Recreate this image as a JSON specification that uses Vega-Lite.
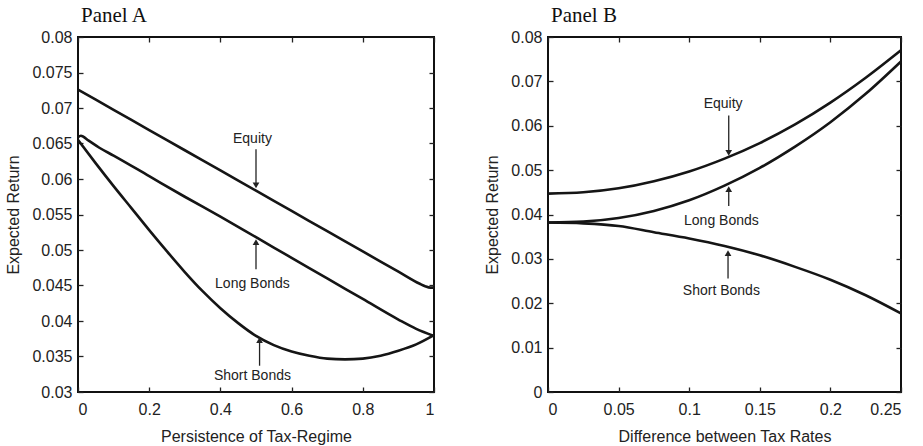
{
  "$schema": "https://vega.github.io/schema/vega-lite/v6.json",
  "padding": {"left": 4, "top": 4, "right": 5, "bottom": 0},
  "config": {
    "font": "Liberation Sans",
    "view": {"stroke": "#111", "strokeWidth": 2},
    "axis": {"labelFont": "Liberation Sans", "labelFontSize": 16, "labelColor": "#222", "titleFont": "Liberation Sans", "titleFontSize": 16, "titleFontWeight": "normal", "titleColor": "#222", "grid": false, "domain": false, "tickColor": "#222", "tickSize": -5, "tickWidth": 1.3, "labelPadding": 11, "titlePadding": 10},
    "axisX": {"labelPadding": 14, "titlePadding": 11},
    "title": {"font": "Liberation Serif", "fontSize": 21, "fontWeight": "normal", "anchor": "start", "frame": "group", "color": "#111", "offset": 3, "dx": 3}
  },
  "datasets": {
    "a_lines": [
      {"series": "Equity", "x": 0, "y": 0.0726}, {"series": "Equity", "x": 0.1, "y": 0.06975}, {"series": "Equity", "x": 0.2, "y": 0.0669}, {"series": "Equity", "x": 0.3, "y": 0.06405}, {"series": "Equity", "x": 0.4, "y": 0.0612}, {"series": "Equity", "x": 0.5, "y": 0.05835}, {"series": "Equity", "x": 0.6, "y": 0.0555}, {"series": "Equity", "x": 0.7, "y": 0.05265}, {"series": "Equity", "x": 0.8, "y": 0.0498}, {"series": "Equity", "x": 0.9, "y": 0.04695}, {"series": "Equity", "x": 0.96, "y": 0.04524}, {"series": "Equity", "x": 0.975, "y": 0.0449}, {"series": "Equity", "x": 0.99, "y": 0.0447}, {"series": "Equity", "x": 1.0, "y": 0.0447},
      {"series": "Long Bonds", "x": 0, "y": 0.0659}, {"series": "Long Bonds", "x": 0.008, "y": 0.0661}, {"series": "Long Bonds", "x": 0.03, "y": 0.0654}, {"series": "Long Bonds", "x": 0.06, "y": 0.0644}, {"series": "Long Bonds", "x": 0.1, "y": 0.0633}, {"series": "Long Bonds", "x": 0.2, "y": 0.0604}, {"series": "Long Bonds", "x": 0.3, "y": 0.0575}, {"series": "Long Bonds", "x": 0.4, "y": 0.0547}, {"series": "Long Bonds", "x": 0.5, "y": 0.0518}, {"series": "Long Bonds", "x": 0.6, "y": 0.0489}, {"series": "Long Bonds", "x": 0.7, "y": 0.046}, {"series": "Long Bonds", "x": 0.8, "y": 0.0431}, {"series": "Long Bonds", "x": 0.9, "y": 0.0402}, {"series": "Long Bonds", "x": 0.95, "y": 0.0389}, {"series": "Long Bonds", "x": 1.0, "y": 0.0379},
      {"series": "Short Bonds", "x": 0, "y": 0.0655}, {"series": "Short Bonds", "x": 0.05, "y": 0.0622}, {"series": "Short Bonds", "x": 0.1, "y": 0.059}, {"series": "Short Bonds", "x": 0.15, "y": 0.0559}, {"series": "Short Bonds", "x": 0.2, "y": 0.0528}, {"series": "Short Bonds", "x": 0.25, "y": 0.0498}, {"series": "Short Bonds", "x": 0.3, "y": 0.0469}, {"series": "Short Bonds", "x": 0.35, "y": 0.0442}, {"series": "Short Bonds", "x": 0.4, "y": 0.0418}, {"series": "Short Bonds", "x": 0.45, "y": 0.0397}, {"series": "Short Bonds", "x": 0.5, "y": 0.0379}, {"series": "Short Bonds", "x": 0.55, "y": 0.0366}, {"series": "Short Bonds", "x": 0.6, "y": 0.0357}, {"series": "Short Bonds", "x": 0.65, "y": 0.0351}, {"series": "Short Bonds", "x": 0.7, "y": 0.0347}, {"series": "Short Bonds", "x": 0.75, "y": 0.0346}, {"series": "Short Bonds", "x": 0.8, "y": 0.0347}, {"series": "Short Bonds", "x": 0.85, "y": 0.0351}, {"series": "Short Bonds", "x": 0.9, "y": 0.0358}, {"series": "Short Bonds", "x": 0.95, "y": 0.0367}, {"series": "Short Bonds", "x": 1.0, "y": 0.038}
    ],
    "a_notes": [
      {"label": "Equity", "tx": 0.49, "ty": 0.0656, "ax": 0.5, "ay1": 0.0642, "ay2": 0.0587, "hy": 0.0591, "dir": "down"},
      {"label": "Long Bonds", "tx": 0.49, "ty": 0.0452, "ax": 0.5, "ay1": 0.0473, "ay2": 0.0515, "hy": 0.0511, "dir": "up"},
      {"label": "Short Bonds", "tx": 0.49, "ty": 0.0323, "ax": 0.51, "ay1": 0.0337, "ay2": 0.0377, "hy": 0.0373, "dir": "up"}
    ],
    "b_lines": [
      {"series": "Equity", "x": 0, "y": 0.0447}, {"series": "Equity", "x": 0.025, "y": 0.045}, {"series": "Equity", "x": 0.05, "y": 0.0459}, {"series": "Equity", "x": 0.075, "y": 0.0475}, {"series": "Equity", "x": 0.1, "y": 0.0497}, {"series": "Equity", "x": 0.125, "y": 0.0526}, {"series": "Equity", "x": 0.15, "y": 0.0561}, {"series": "Equity", "x": 0.175, "y": 0.0603}, {"series": "Equity", "x": 0.2, "y": 0.0652}, {"series": "Equity", "x": 0.225, "y": 0.0708}, {"series": "Equity", "x": 0.25, "y": 0.077},
      {"series": "Long Bonds", "x": 0, "y": 0.0382}, {"series": "Long Bonds", "x": 0.025, "y": 0.0384}, {"series": "Long Bonds", "x": 0.05, "y": 0.0392}, {"series": "Long Bonds", "x": 0.075, "y": 0.0408}, {"series": "Long Bonds", "x": 0.1, "y": 0.0432}, {"series": "Long Bonds", "x": 0.125, "y": 0.0465}, {"series": "Long Bonds", "x": 0.15, "y": 0.0505}, {"series": "Long Bonds", "x": 0.175, "y": 0.0553}, {"series": "Long Bonds", "x": 0.2, "y": 0.0608}, {"series": "Long Bonds", "x": 0.225, "y": 0.0672}, {"series": "Long Bonds", "x": 0.25, "y": 0.0745},
      {"series": "Short Bonds", "x": 0, "y": 0.0382}, {"series": "Short Bonds", "x": 0.025, "y": 0.038}, {"series": "Short Bonds", "x": 0.05, "y": 0.0374}, {"series": "Short Bonds", "x": 0.075, "y": 0.036}, {"series": "Short Bonds", "x": 0.1, "y": 0.0346}, {"series": "Short Bonds", "x": 0.125, "y": 0.0329}, {"series": "Short Bonds", "x": 0.15, "y": 0.0308}, {"series": "Short Bonds", "x": 0.175, "y": 0.0282}, {"series": "Short Bonds", "x": 0.2, "y": 0.0253}, {"series": "Short Bonds", "x": 0.225, "y": 0.0218}, {"series": "Short Bonds", "x": 0.25, "y": 0.0177}
    ],
    "b_notes": [
      {"label": "Equity", "tx": 0.124, "ty": 0.065, "ax": 0.128, "ay1": 0.0623, "ay2": 0.0532, "hy": 0.0539, "dir": "down"},
      {"label": "Long Bonds", "tx": 0.1228, "ty": 0.0386, "ax": 0.128, "ay1": 0.0419, "ay2": 0.0464, "hy": 0.0457, "dir": "up"},
      {"label": "Short Bonds", "tx": 0.1228, "ty": 0.0228, "ax": 0.1275, "ay1": 0.0256, "ay2": 0.032, "hy": 0.0313, "dir": "up"}
    ]
  },
  "spacing": 42,
  "hconcat": [
    {
      "title": "Panel A",
      "width": 356,
      "height": 355,
      "resolve": {"axis": {"x": "independent", "y": "independent"}},
      "layer": [
        {
          "data": {"name": "a_lines"},
          "mark": {"type": "line", "color": "#151515", "strokeWidth": 2.6, "interpolate": "monotone"},
          "encoding": {
            "x": {"field": "x", "type": "quantitative", "scale": {"domain": [0, 1], "nice": false}, "axis": {"title": "Persistence of Tax-Regime", "values": [0, 0.2, 0.4, 0.6, 0.8, 1], "format": "~g"}},
            "y": {"field": "y", "type": "quantitative", "scale": {"domain": [0.03, 0.08], "nice": false, "zero": false}, "axis": {"title": "Expected Return", "values": [0.03, 0.035, 0.04, 0.045, 0.05, 0.055, 0.06, 0.065, 0.07, 0.075, 0.08], "format": "~g"}},
            "detail": {"field": "series"}
          }
        },
        {
          "data": {"name": "a_notes"},
          "mark": {"type": "text", "fontSize": 14, "font": "Liberation Sans", "color": "#222", "align": "center", "baseline": "middle"},
          "encoding": {
            "x": {"field": "tx", "type": "quantitative", "axis": {"orient": "top", "labels": false, "title": null, "values": [0, 0.2, 0.4, 0.6, 0.8, 1]}},
            "y": {"field": "ty", "type": "quantitative", "axis": {"orient": "right", "labels": false, "title": null, "values": [0.03, 0.035, 0.04, 0.045, 0.05, 0.055, 0.06, 0.065, 0.07, 0.075, 0.08]}},
            "text": {"field": "label"}
          }
        },
        {
          "data": {"name": "a_notes"},
          "mark": {"type": "rule", "color": "#222", "strokeWidth": 1.3},
          "encoding": {
            "x": {"field": "ax", "type": "quantitative", "axis": null},
            "y": {"field": "ay1", "type": "quantitative", "axis": null},
            "y2": {"field": "hy"}
          }
        },
        {
          "data": {"name": "a_notes"},
          "mark": {"type": "point", "filled": true, "color": "#222", "size": 45, "opacity": 1},
          "encoding": {
            "x": {"field": "ax", "type": "quantitative", "axis": null},
            "y": {"field": "hy", "type": "quantitative", "axis": null},
            "shape": {"field": "dir", "type": "nominal", "scale": {"domain": ["down", "up"], "range": ["triangle-down", "triangle-up"]}, "legend": null}
          }
        }
      ]
    },
    {
      "title": "Panel B",
      "width": 353,
      "height": 355,
      "resolve": {"axis": {"x": "independent", "y": "independent"}},
      "layer": [
        {
          "data": {"name": "b_lines"},
          "mark": {"type": "line", "color": "#151515", "strokeWidth": 2.6, "interpolate": "monotone"},
          "encoding": {
            "x": {"field": "x", "type": "quantitative", "scale": {"domain": [0, 0.25], "nice": false}, "axis": {"title": "Difference between Tax Rates", "values": [0, 0.05, 0.1, 0.15, 0.2, 0.25], "format": "~g"}},
            "y": {"field": "y", "type": "quantitative", "scale": {"domain": [0, 0.08], "nice": false, "zero": false}, "axis": {"title": "Expected Return", "values": [0, 0.01, 0.02, 0.03, 0.04, 0.05, 0.06, 0.07, 0.08], "format": "~g"}},
            "detail": {"field": "series"}
          }
        },
        {
          "data": {"name": "b_notes"},
          "mark": {"type": "text", "fontSize": 14, "font": "Liberation Sans", "color": "#222", "align": "center", "baseline": "middle"},
          "encoding": {
            "x": {"field": "tx", "type": "quantitative", "axis": {"orient": "top", "labels": false, "title": null, "values": [0, 0.05, 0.1, 0.15, 0.2, 0.25]}},
            "y": {"field": "ty", "type": "quantitative", "axis": {"orient": "right", "labels": false, "title": null, "values": [0, 0.01, 0.02, 0.03, 0.04, 0.05, 0.06, 0.07, 0.08]}},
            "text": {"field": "label"}
          }
        },
        {
          "data": {"name": "b_notes"},
          "mark": {"type": "rule", "color": "#222", "strokeWidth": 1.3},
          "encoding": {
            "x": {"field": "ax", "type": "quantitative", "axis": null},
            "y": {"field": "ay1", "type": "quantitative", "axis": null},
            "y2": {"field": "hy"}
          }
        },
        {
          "data": {"name": "b_notes"},
          "mark": {"type": "point", "filled": true, "color": "#222", "size": 45, "opacity": 1},
          "encoding": {
            "x": {"field": "ax", "type": "quantitative", "axis": null},
            "y": {"field": "hy", "type": "quantitative", "axis": null},
            "shape": {"field": "dir", "type": "nominal", "scale": {"domain": ["down", "up"], "range": ["triangle-down", "triangle-up"]}, "legend": null}
          }
        }
      ]
    }
  ]
}
